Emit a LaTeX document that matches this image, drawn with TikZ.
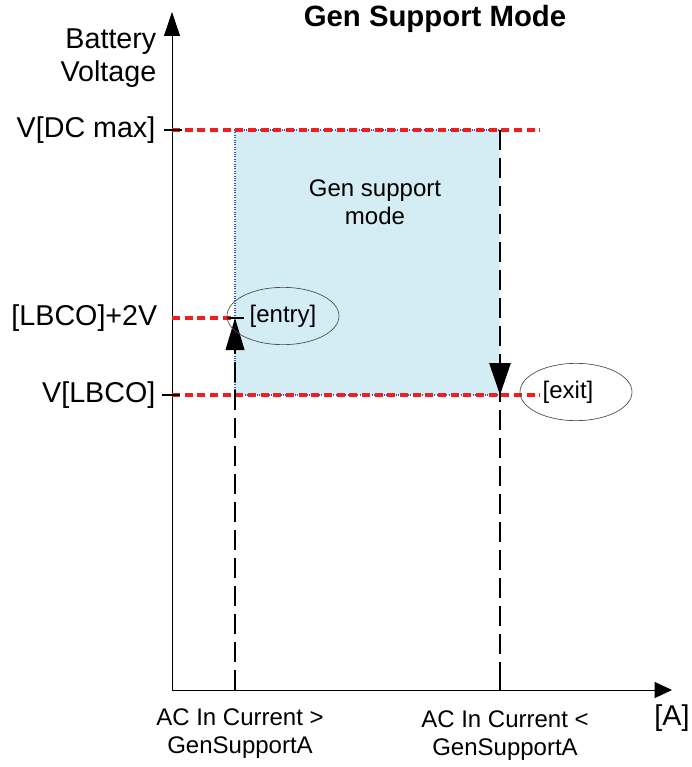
\documentclass[tikz,border=0pt]{standalone}
\usepackage{fontspec}
\setmainfont{Liberation Sans}
\usetikzlibrary{arrows.meta,shapes.geometric}
\definecolor{modefill}{RGB}{212,236,244}
\definecolor{limitred}{RGB}{240,30,30}
\definecolor{edgeblue}{RGB}{40,90,190}
\tikzset{
  axislabel/.style={font=\fontsize{21.5}{24.75}\selectfont},
  smalllabel/.style={font=\fontsize{18}{21}\selectfont},
  limitline/.style={limitred,line width=2.4pt,dash pattern=on 6pt off 3.5pt},
  jumpline/.style={black,line width=1.3pt,dash pattern=on 15pt off 6pt},
  bubble/.style={ellipse,draw=black!70,line width=0.5pt,minimum width=84pt,minimum height=43pt,inner sep=0pt},
  tick/.style={black,line width=2pt}
}
\begin{document}
\begin{tikzpicture}[x=0.75pt,y=-0.75pt]
\useasboundingbox (0,0) rectangle (692,767);
% mode area
\fill[modefill] (235,130) rectangle (500,395);
\draw[edgeblue,densely dotted,line width=0.8pt] (235,395) -- (235,130) -- (500,130);
\draw[edgeblue,densely dotted,line width=0.8pt] (235,395) -- (500,395);

% axes
\coordinate (o) at (172,690);
\coordinate (ytop) at (172,12);
\coordinate (xend) at (672,690);
\draw[line width=0.6pt,-{Triangle[length=18pt,width=12pt]}] (o) -- (ytop);
\draw[line width=0.6pt,-{Triangle[length=13pt,width=12pt]}] (o) -- (xend);

% limit levels
\coordinate (dcmax) at (172,130);
\coordinate (lbcotwo) at (172,318);
\coordinate (lbco) at (172,395);
\coordinate (entry) at (235,318);
\draw[limitline] (dcmax) -- (540,130);
\draw[limitline] (lbcotwo) -- (entry);
\draw[limitline] (lbco) -- (540,395);
\draw[tick] (164,130) -- (182,130);
\draw[tick] (162,395) -- (180,395);
\draw[tick] (227,318) -- (244,318);

% entry / exit
\coordinate (xentry) at (235,690);
\coordinate (top) at (500,130);
\coordinate (exit) at (500,395);
\coordinate (xexit) at (500,690);
\draw[jumpline,-{Triangle[length=24pt,width=14pt]}] (xentry) -- (entry);
\draw[jumpline] (top) -- (exit) -- (xexit);
\draw[black,line width=1.3pt,-{Triangle[length=24pt,width=16pt]}] (500,360) -- (exit);
\draw[line width=1pt] (235,678) -- (xentry);
\draw[line width=1pt] (500,678) -- (xexit);

% labels
\node[font=\bfseries\fontsize{22}{26}\selectfont] (title) at (435,19) {Gen Support Mode};
\node[axislabel,align=right,anchor=east] (ylabel) at (161,58) {Battery\\Voltage};
\node[axislabel,anchor=east] (vdcmax) at (160,130) {V[DC max]};
\node[axislabel,anchor=east] (vlbcotwo) at (162,318) {[LBCO]+2V};
\node[axislabel,anchor=east] (vlbco) at (160,395) {V[LBCO]};
\node[axislabel] (amps) at (672,718) {[A]};
\node[smalllabel,align=center] (mode) at (375,202) {Gen support\\mode};
\node[bubble,smalllabel] (entrylbl) at (283,316) {[entry]};
\node[bubble,smalllabel] (exitlbl) at (576,392) {\hspace*{-12pt}[exit]};
\node[smalllabel,align=center] (xentrylbl) at (240,734) {AC In Current >\\GenSupportA};
\node[smalllabel,align=center] (xexitlbl) at (505,736) {AC In Current <\\GenSupportA};
\end{tikzpicture}
\end{document}
